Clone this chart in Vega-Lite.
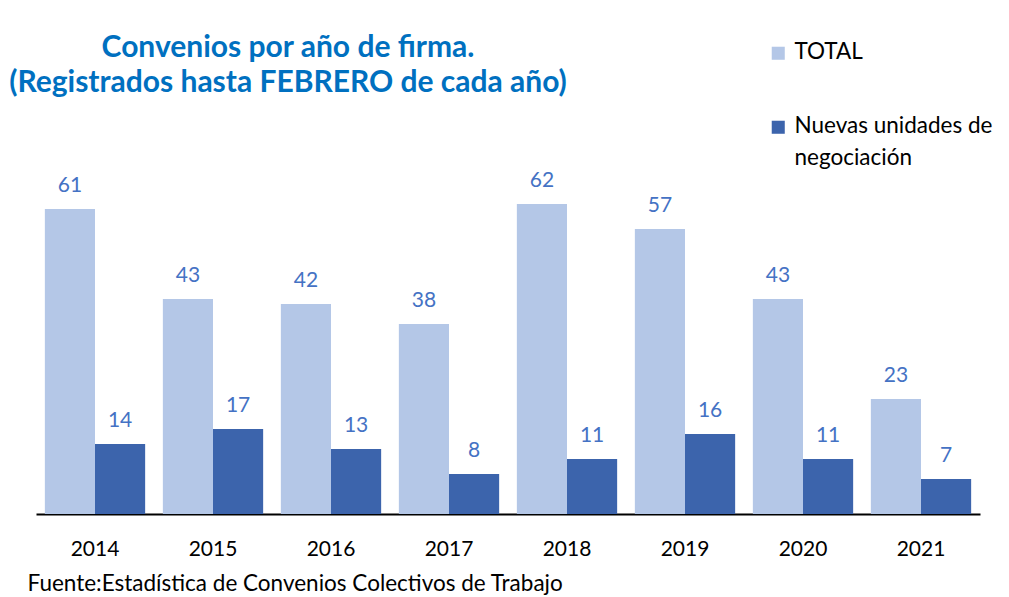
{
  "$schema": "https://vega.github.io/schema/vega-lite/v6.json",
  "autosize": "none",
  "width": 944,
  "height": 350,
  "padding": {"left": 36, "top": 164, "right": 29, "bottom": 83},
  "background": "white",
  "title": {
    "text": ["Convenios por año de firma.", "(Registrados hasta FEBRERO de cada año)"],
    "anchor": "start",
    "align": "center",
    "baseline": "top",
    "frame": "group",
    "dx": 252,
    "dy": 56,
    "offset": 0,
    "font": "Lato",
    "fontSize": 30,
    "fontWeight": "bold",
    "color": "#0070C0",
    "lineHeight": 35
  },
  "data": {
    "values": [
      {"year": "2014", "serie": "TOTAL", "valor": 61},
      {"year": "2014", "serie": "Nuevas unidades de negociación", "valor": 14},
      {"year": "2015", "serie": "TOTAL", "valor": 43},
      {"year": "2015", "serie": "Nuevas unidades de negociación", "valor": 17},
      {"year": "2016", "serie": "TOTAL", "valor": 42},
      {"year": "2016", "serie": "Nuevas unidades de negociación", "valor": 13},
      {"year": "2017", "serie": "TOTAL", "valor": 38},
      {"year": "2017", "serie": "Nuevas unidades de negociación", "valor": 8},
      {"year": "2018", "serie": "TOTAL", "valor": 62},
      {"year": "2018", "serie": "Nuevas unidades de negociación", "valor": 11},
      {"year": "2019", "serie": "TOTAL", "valor": 57},
      {"year": "2019", "serie": "Nuevas unidades de negociación", "valor": 16},
      {"year": "2020", "serie": "TOTAL", "valor": 43},
      {"year": "2020", "serie": "Nuevas unidades de negociación", "valor": 11},
      {"year": "2021", "serie": "TOTAL", "valor": 23},
      {"year": "2021", "serie": "Nuevas unidades de negociación", "valor": 7}
    ]
  },
  "encoding": {
    "x": {
      "field": "year",
      "type": "nominal",
      "scale": {"paddingInner": 0.15, "paddingOuter": 0.075},
      "axis": {
        "labelAngle": 0,
        "ticks": false,
        "domainColor": "#000000",
        "domainWidth": 2,
        "labelFont": "Lato",
        "labelFontSize": 21,
        "labelColor": "#000000",
        "labelPadding": 24,
        "title": "Fuente:Estadística de Convenios Colectivos de Trabajo",
        "titleFont": "Lato",
        "titleFontSize": 22.5,
        "titleFontWeight": "normal",
        "titleColor": "#000000",
        "titleAnchor": "start",
        "titleAlign": "left",
        "titleBaseline": "alphabetic",
        "titleX": -9,
        "titleY": 76
      }
    },
    "xOffset": {"field": "serie", "type": "nominal", "sort": ["TOTAL", "Nuevas unidades de negociación"], "scale": {"paddingInner": 0}},
    "y": {"field": "valor", "type": "quantitative", "scale": {"domain": [0, 70]}, "axis": null}
  },
  "layer": [
    {
      "mark": {"type": "bar"},
      "encoding": {
        "color": {
          "field": "serie",
          "type": "nominal",
          "sort": ["TOTAL", "Nuevas unidades de negociación"],
          "scale": {"domain": ["TOTAL", "Nuevas unidades de negociación"], "range": ["#B4C7E7", "#3C64AC"]},
          "legend": {
            "title": null,
            "orient": "none",
            "legendX": 731,
            "legendY": -122,
            "symbolType": "square",
            "symbolSize": 170,
            "symbolStrokeWidth": 0,
            "labelFont": "Lato",
            "labelFontSize": 22.5,
            "labelColor": "#000000",
            "labelOffset": 5,
            "labelLimit": 300,
            "rowPadding": 51,
            "labelExpr": "datum.label == 'TOTAL' ? 'TOTAL' : ['Nuevas unidades de', 'negociación']",
            "encode": {
              "labels": {
                "update": {
                  "baseline": {"value": "top"},
                  "dy": {"value": -12},
                  "lineHeight": {"value": 32}
                }
              }
            }
          }
        }
      }
    },
    {
      "mark": {"type": "text", "baseline": "bottom", "dy": -13, "font": "Lato", "fontSize": 21, "color": "#4472C4"},
      "encoding": {"text": {"field": "valor", "type": "quantitative"}}
    }
  ],
  "config": {"view": {"stroke": null}}
}
